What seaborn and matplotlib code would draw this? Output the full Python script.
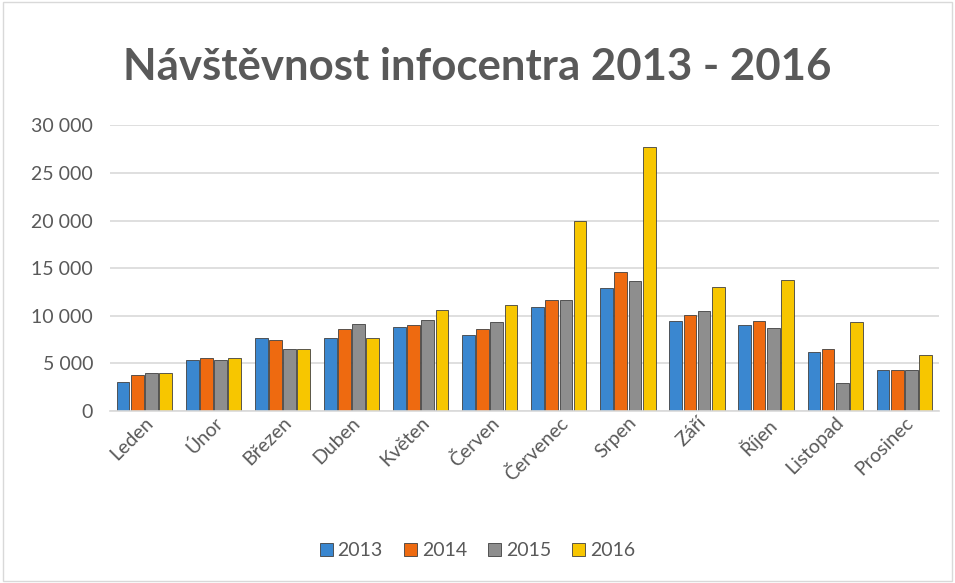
import matplotlib
matplotlib.use("Agg")
import matplotlib.pyplot as plt
import seaborn as sns
import pandas as pd
from matplotlib.ticker import FuncFormatter

months = ["Leden", "Únor", "Březen", "Duben", "Květen", "Červen", "Červenec",
          "Srpen", "Září", "Říjen", "Listopad", "Prosinec"]
years = ["2013", "2014", "2015", "2016"]
v2013 = [3000, 5400, 7700, 7700, 8850, 8000, 10950, 12950, 9500, 9050, 6200, 4350]
v2014 = [3800, 5600, 7500, 8650, 9050, 8650, 11700, 14550, 10100, 9500, 6550, 4350]
v2015 = [3950, 5400, 6550, 9150, 9600, 9350, 11700, 13650, 10500, 8750, 2950, 4350]
v2016 = [3950, 5600, 6550, 7700, 10650, 11150, 20000, 27750, 13050, 13800, 9400, 5900]
colors = ["#3A87D0", "#EE6A10", "#8E8E8E", "#F7C600"]

rows = []
for y, vals in zip(years, [v2013, v2014, v2015, v2016]):
    for m, v in zip(months, vals):
        rows.append({"Měsíc": m, "Rok": y, "Návštěvnost": v})
df = pd.DataFrame(rows)

sns.set_theme(style="white")
plt.rcParams['font.family'] = ['Lato', 'DejaVu Sans']

fig = plt.figure(figsize=(9.55, 5.83), dpi=100)
ax = fig.add_axes([0.115, 0.295, 0.868, 0.49])
sns.barplot(data=df, x="Měsíc", y="Návštěvnost", hue="Rok", order=months,
            hue_order=years, palette=colors, ax=ax, width=0.82, gap=0.1,
            saturation=1, edgecolor="#404040", linewidth=0.6, legend=True)

ax.set_ylim(0, 30000)
ax.set_yticks(range(0, 30001, 5000))
ax.yaxis.set_major_formatter(FuncFormatter(lambda v, p: f"{int(v):,}".replace(",", " ")))
ax.grid(axis="y", color="#D9D9D9", linewidth=1.2)
ax.set_axisbelow(True)
for s in ["top", "right", "left"]:
    ax.spines[s].set_visible(False)
ax.spines["bottom"].set_color("#D9D9D9")
ax.spines["bottom"].set_linewidth(1.2)
ax.set_xlabel("")
ax.set_ylabel("")
ax.tick_params(axis="y", labelsize=14, colors="#595959", length=0, pad=12)
ax.tick_params(axis="x", labelsize=14, colors="#595959", length=0, pad=2)
plt.setp(ax.get_xticklabels(), rotation=45, ha="right", rotation_mode="anchor")
ax.set_xlim(-0.5, 11.5)

fig.text(0.5, 0.885, "Návštěvnost infocentra 2013 - 2016", ha="center", va="center",
         fontsize=31.5, fontweight="bold", color="#595959")

handles, labels = ax.get_legend_handles_labels()
ax.legend_.remove()
fig.legend(handles, labels, loc="center", bbox_to_anchor=(0.5, 0.055), ncol=4,
           frameon=False, fontsize=14, handlelength=0.65, handleheight=0.65,
           handletextpad=0.25, columnspacing=1.1, labelcolor="#595959")

border = plt.Rectangle((0.003, 0.003), 0.994, 0.994, transform=fig.transFigure,
                       fill=False, edgecolor="#D9D9D9", linewidth=1)
fig.add_artist(border)

fig.savefig("out.png", dpi=100, facecolor="white")
